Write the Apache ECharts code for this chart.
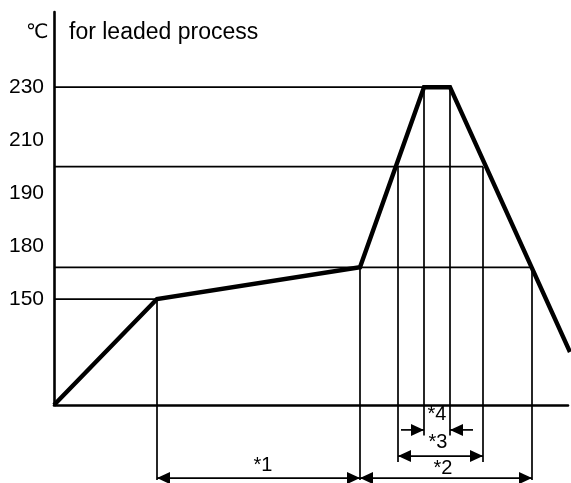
<!DOCTYPE html>
<html>
<head>
<meta charset="utf-8">
<script src="https://cdn.jsdelivr.net/npm/echarts@6/dist/echarts.min.js"></script>
<style>html,body{margin:0;padding:0;background:#fff;}#c{width:571px;height:483px;}</style>
</head>
<body>
<div id="c"></div>
<script>
// Y tick positions (schematic temperature) and their printed labels
const yTickValues = [150, 170, 190, 210, 230];
const yTickLabels = ['150', '180', '190', '210', '230'];

// Reflow profile (time units, temperature)
const profileTime = [0, 103, 306, 370, 396, 516];
const profileTemp = [110, 150, 162, 230, 230, 130];

// Horizontal guide lines: [temp, endTime]
const hGuides = [[230, 370], [200, 429], [162, 478], [150, 103]];
// Vertical guide lines: [time, topTemp, bottomTemp]
const vGuides = [[103, 150, 81.7], [306, 162, 81.7], [344, 200, 88.5], [370, 230, 98.5], [396, 230, 98.5], [429, 200, 88.5], [478, 162, 81.7]];
// Dimension arrows: [fromTime, toTime, level, headAtFrom, headAtTo]
const arrows = [[103, 306, 82.4, 1, 1], [306, 478, 82.4, 1, 1], [344, 429, 90.7, 1, 1], [347, 370, 100.6, 0, 1], [396, 419, 100.6, 1, 0]];
// Dimension labels: [time, level, text]
const dimLabels = [[209, 87.3, '*1'], [389, 86.2, '*2'], [384, 95.7, '*3'], [383, 106.3, '*4']];

const FONT = '"Liberation Sans", Arial, Helvetica, sans-serif';
const chart = echarts.init(document.getElementById('c'));

const guideData = hGuides.map(g => [0, g[0], g[1], g[0]])
  .concat(vGuides.map(g => [g[0], g[1], g[0], g[2]]));

chart.setOption({
  animation: false,
  backgroundColor: '#fff',
  title: [
    { text: '℃', left: 21, top: 18, textStyle: { fontFamily: '"DejaVu Sans", ' + FONT, fontSize: 20, fontWeight: 'normal', color: '#000' } },
    { text: 'for leaded process', left: 64, top: 16, textStyle: { fontFamily: FONT, fontSize: 23, fontWeight: 'normal', color: '#000' } }
  ],
  grid: { left: 54, right: 3, top: 12, bottom: 78 },
  xAxis: {
    type: 'value', min: 0, max: 514,
    axisLine: { show: true, onZero: false, lineStyle: { color: '#000', width: 2.6 } },
    axisTick: { show: false }, axisLabel: { show: false }, splitLine: { show: false }
  },
  yAxis: {
    type: 'value', min: 110, max: 258.4,
    axisLine: { show: true, lineStyle: { color: '#000', width: 2.6 } },
    axisTick: { show: false },
    splitLine: { show: false },
    axisLabel: {
      customValues: yTickValues,
      margin: 10,
      fontFamily: FONT, fontSize: 21, color: '#000',
      formatter: v => yTickLabels[yTickValues.indexOf(v)]
    }
  },
  series: [
    {
      type: 'custom', clip: false, silent: true,
      encode: { x: [0, 2], y: [1, 3] },
      data: guideData,
      renderItem: (params, api) => {
        const p1 = api.coord([api.value(0), api.value(1)]);
        const p2 = api.coord([api.value(2), api.value(3)]);
        return { type: 'line', shape: { x1: p1[0], y1: p1[1], x2: p2[0], y2: p2[1] }, style: { stroke: '#000', lineWidth: 1.7 } };
      }
    },
    {
      type: 'line', clip: false, silent: true, symbol: 'none',
      data: profileTime.map((t, i) => [t, profileTemp[i]]),
      lineStyle: { color: '#000', width: 4.4, join: 'miter' }, z: 5
    },
    {
      type: 'custom', clip: false, silent: true,
      encode: { x: [0, 1], y: 2 },
      data: arrows,
      renderItem: (params, api) => {
        const a = api.coord([api.value(0), api.value(2)]);
        const b = api.coord([api.value(1), api.value(2)]);
        const L = 13, W = 6;
        const children = [{ type: 'line', shape: { x1: a[0], y1: a[1], x2: b[0], y2: b[1] }, style: { stroke: '#000', lineWidth: 1.7 } }];
        if (api.value(3)) children.push({ type: 'polygon', shape: { points: [[a[0], a[1]], [a[0] + L, a[1] - W], [a[0] + L, a[1] + W]] }, style: { fill: '#000' } });
        if (api.value(4)) children.push({ type: 'polygon', shape: { points: [[b[0], b[1]], [b[0] - L, b[1] - W], [b[0] - L, b[1] + W]] }, style: { fill: '#000' } });
        return { type: 'group', children };
      }
    },
    {
      type: 'custom', clip: false, silent: true,
      encode: { x: 0, y: 1 },
      data: dimLabels,
      renderItem: (params, api) => {
        const p = api.coord([api.value(0), api.value(1)]);
        return { type: 'text', x: p[0], y: p[1], style: { text: dimLabels[params.dataIndex][2], fontFamily: FONT, fontSize: 20, fill: '#000', align: 'center', verticalAlign: 'middle' } };
      }
    }
  ]
});
</script>
</body>
</html>
